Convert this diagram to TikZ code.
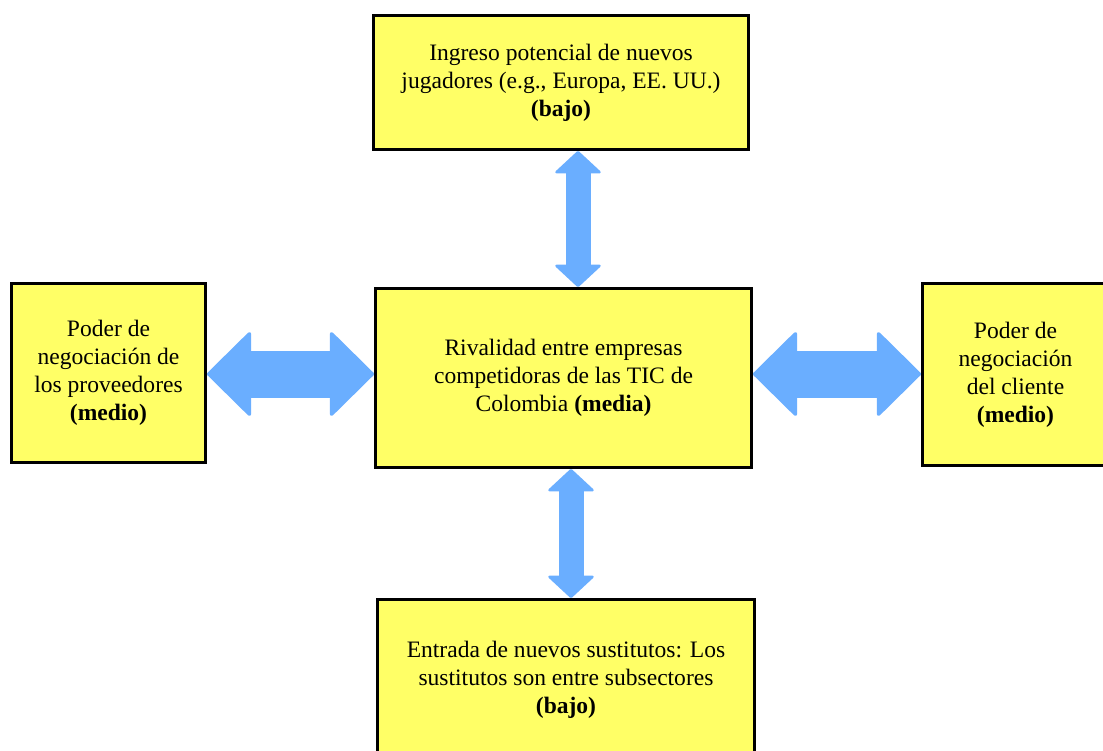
\documentclass[tikz,border=0pt]{standalone}
\usepackage{fontspec}
\setmainfont{Liberation Serif}
\usetikzlibrary{arrows.meta}
\definecolor{boxyellow}{RGB}{255,255,102}
\definecolor{arrowblue}{RGB}{106,174,255}
\begin{document}
\begin{tikzpicture}[x=0.02cm, y=-0.02cm,
  force/.style={draw=black, line width=1.7pt, fill=boxyellow, align=center,
    inner sep=0pt, font=\fontsize{13.4}{16}\selectfont},
  hlink/.style={draw=arrowblue, line width=0.94cm, {Triangle[width=1.76cm, length=0.9cm, line width=2pt, round]}-{Triangle[width=1.76cm, length=0.9cm, line width=2pt, round]}},
  vlink/.style={draw=arrowblue, line width=0.5cm, {Triangle[width=0.98cm, length=0.46cm, line width=1.5pt, round]}-{Triangle[width=0.98cm, length=0.46cm, line width=1.5pt, round]}}]
\clip (0,0) rectangle (1103,751);
\fill[white] (0,0) rectangle (1103,751);
%
\node[force, minimum width=7.5cm, minimum height=2.68cm] (entrants) at (561,82.5)
  {Ingreso potencial de nuevos\\jugadores (e.g., Europa, EE.~UU.)\\\textbf{(bajo)}};
\node[force, minimum width=7.52cm, minimum height=3.58cm] (rivalry) at (563.5,378)
  {Rivalidad entre empresas\\competidoras de las TIC de\\Colombia \textbf{(media)}};
\node[force, minimum width=3.88cm, minimum height=3.58cm] (suppliers) at (108.5,373)
  {Poder de\\negociación de\\los proveedores\\\textbf{(medio)}};
\node[force, minimum width=3.72cm, minimum height=3.64cm] (buyers) at (1015.5,374.5)
  {Poder de\\negociación\\del cliente\\\textbf{(medio)}};
\node[force, minimum width=7.54cm, minimum height=3.2cm] (substitutes) at (566,679.5)
  {Entrada de nuevos sustitutos: Los\\sustitutos son entre subsectores\\\textbf{(bajo)}};
%
\coordinate (xtop) at (578,0);
\coordinate (xbot) at (571,0);
\coordinate (ymid) at (0,374);
\draw[vlink] (entrants.south -| xtop) -- (rivalry.north -| xtop);
\draw[vlink] (rivalry.south -| xbot) -- (substitutes.north -| xbot);
\draw[hlink] (suppliers.east |- ymid) -- (rivalry.west |- ymid);
\draw[hlink] (rivalry.east |- ymid) -- (buyers.west |- ymid);
\end{tikzpicture}
\end{document}
